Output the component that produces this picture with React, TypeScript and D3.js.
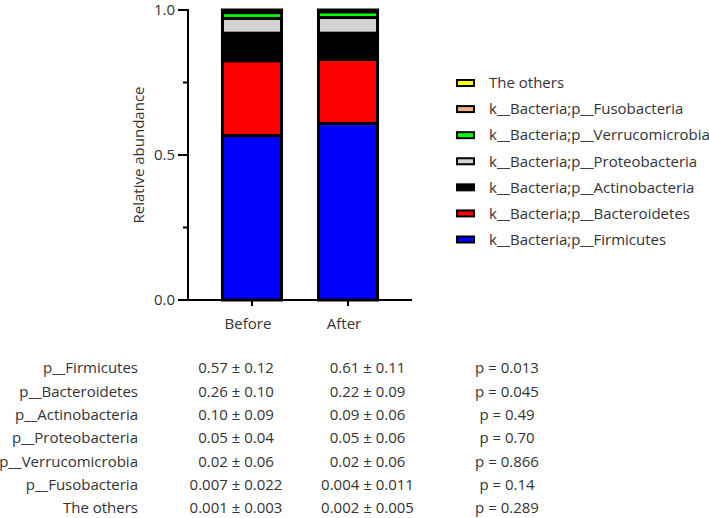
import React from "react";
import * as d3 from "d3";

const categories = ["Before", "After"];
const seriesNames = [
  "k__Bacteria;p__Firmicutes",
  "k__Bacteria;p__Bacteroidetes",
  "k__Bacteria;p__Actinobacteria",
  "k__Bacteria;p__Proteobacteria",
  "k__Bacteria;p__Verrucomicrobia",
  "k__Bacteria;p__Fusobacteria",
  "The others",
];
const seriesColors = ["#0000ff", "#ff0000", "#000000", "#d3d3d3", "#00ff00", "#f2b27c", "#ffff00"];
const beforeValues = [0.567, 0.258, 0.095, 0.051, 0.02, 0.007, 0.002];
const afterValues = [0.609, 0.221, 0.09, 0.054, 0.02, 0.004, 0.002];
const yTicks = [0, 0.5, 1.0];
const yMinorTicks = [0.25, 0.75];

const tableLabels = [
  "p__Firmicutes",
  "p__Bacteroidetes",
  "p__Actinobacteria",
  "p__Proteobacteria",
  "p__Verrucomicrobia",
  "p__Fusobacteria",
  "The others",
];
const tableBefore = ["0.57 ± 0.12", "0.26 ± 0.10", "0.10 ± 0.09", "0.05 ± 0.04", "0.02 ± 0.06", "0.007 ± 0.022", "0.001 ± 0.003"];
const tableAfter = ["0.61 ± 0.11", "0.22 ± 0.09", "0.09 ± 0.06", "0.05 ± 0.06", "0.02 ± 0.06", "0.004 ± 0.011", "0.002 ± 0.005"];
const tableP = ["p = 0.013", "p = 0.045", "p = 0.49", "p = 0.70", "p = 0.866", "p = 0.14", "p = 0.289"];

const FONT = "'Open Sans', 'Noto Sans', sans-serif";
const TEXT = "#333";
const FS = 15;

export default function App() {
  const W = 709;
  const H = 518;
  const x0 = 188;
  const x1 = 412;
  const yBottom = 300;
  const yTop = 10;

  const x = d3.scaleBand<string>().domain(categories).range([x0, x1]).paddingInner(0.385).paddingOuter(0.359);
  const y = d3.scaleLinear().domain([0, 1]).range([yBottom, yTop]);

  const rows = categories.map((c, i) => {
    const vals = i === 0 ? beforeValues : afterValues;
    const obj: any = { cat: c };
    seriesNames.forEach((s, j) => (obj[s] = vals[j]));
    return obj;
  });
  const stack = d3.stack<any>().keys(seriesNames)(rows);

  const legendY = d3.scalePoint<string>().domain([...seriesNames].reverse()).range([83, 239.5]);
  const tableY = d3.scalePoint<string>().domain(tableLabels).range([368, 508]);

  return (
    <svg width={W} height={H} style={{ position: "absolute", left: 0, top: 0, background: "#fff" }} fontFamily={FONT}>
      {/* bars */}
      {stack.map((layer, li) =>
        layer.map((d, ci) => (
          <rect
            key={`${li}-${ci}`}
            x={x(categories[ci])}
            width={x.bandwidth()}
            y={y(d[1])}
            height={Math.max(0, y(d[0]) - y(d[1]))}
            fill={seriesColors[li]}
            stroke="#000"
            strokeWidth={3}
          />
        ))
      )}
      {/* y axis */}
      <line x1={x0} x2={x0} y1={y(1) - 1} y2={yBottom + 1} stroke="#000" strokeWidth={2} />
      {yTicks.map((t) => (
        <g key={t}>
          <line x1={x0 - 10} x2={x0} y1={y(t)} y2={y(t)} stroke="#000" strokeWidth={2} />
          <text x={x0 - 13} y={y(t)} dy="0.35em" textAnchor="end" fontSize={FS} fill={TEXT}>
            {t.toFixed(1)}
          </text>
        </g>
      ))}
      {yMinorTicks.map((t) => (
        <line key={t} x1={x0 - 5} x2={x0} y1={y(t)} y2={y(t)} stroke="#000" strokeWidth={2} />
      ))}
      <text
        transform={`translate(${139},${y(0.5)}) rotate(-90)`}
        textAnchor="middle"
        dy="0.35em"
        fontSize={FS}
        fill={TEXT}
      >
        Relative abundance
      </text>
      {/* x axis */}
      <line x1={x0 - 1} x2={x1} y1={yBottom} y2={yBottom} stroke="#000" strokeWidth={2} />
      {categories.map((c) => {
        const cx = (x(c) as number) + x.bandwidth() / 2;
        return (
          <g key={c}>
            <line x1={cx} x2={cx} y1={yBottom} y2={yBottom + 6} stroke="#000" strokeWidth={2} />
            <text x={cx - 4} y={yBottom + 24} dy="0.35em" textAnchor="middle" fontSize={FS} fill={TEXT}>
              {c}
            </text>
          </g>
        );
      })}
      {/* legend */}
      {seriesNames.map((s, i) => {
        const ly = legendY(s) as number;
        return (
          <g key={s}>
            <rect x={457} y={ly - 3} width={17} height={6} fill={seriesColors[i]} stroke="#000" strokeWidth={2} />
            <text x={489} y={ly} dy="0.35em" fontSize={FS} fill={TEXT}>
              {s}
            </text>
          </g>
        );
      })}
      {/* table */}
      {tableLabels.map((l, i) => {
        const ty = tableY(l) as number;
        return (
          <g key={l} fontSize={FS} fill={TEXT}>
            <text x={138} y={ty} dy="0.35em" textAnchor="end">{l}</text>
            <text x={236} y={ty} dy="0.35em" textAnchor="middle">{tableBefore[i]}</text>
            <text x={367.5} y={ty} dy="0.35em" textAnchor="middle">{tableAfter[i]}</text>
            <text x={507} y={ty} dy="0.35em" textAnchor="middle">{tableP[i]}</text>
          </g>
        );
      })}
    </svg>
  );
}
